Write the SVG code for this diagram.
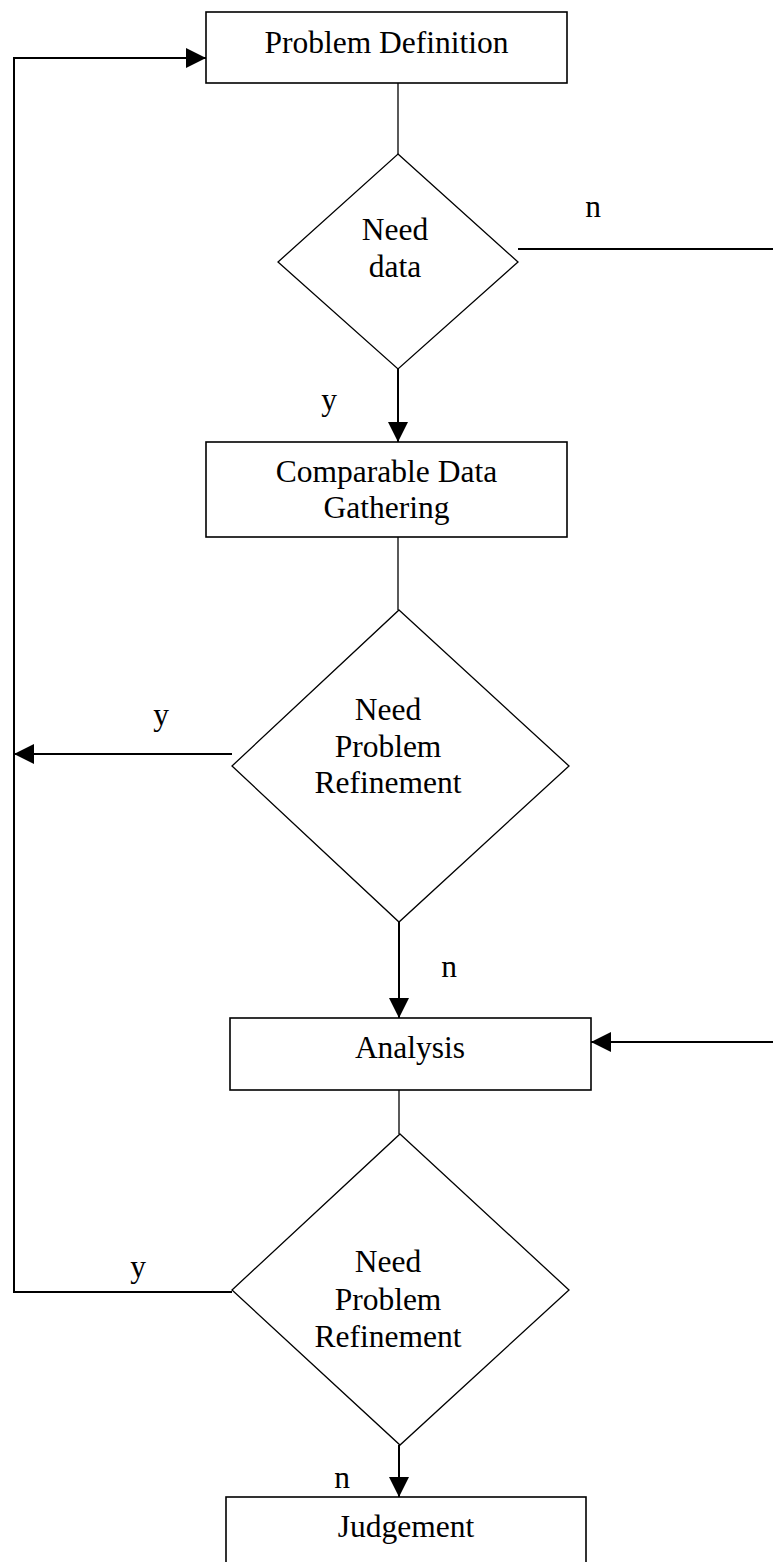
<svg xmlns="http://www.w3.org/2000/svg" width="773" height="1562" viewBox="0 0 773 1562">
<style>
.box{fill:#fff;stroke:#000;stroke-width:1.6}
.dia{fill:#fff;stroke:#000;stroke-width:1.3}
.ln{fill:none;stroke:#000;stroke-width:1.3}
.ar{fill:none;stroke:#000;stroke-width:2}
text{font-family:"Liberation Serif","Times New Roman",serif;font-size:31.5px;fill:#000;text-anchor:middle}
</style>
<defs>
<marker id="ah" viewBox="0 0 20 20" refX="20" refY="10" markerWidth="20" markerHeight="20" markerUnits="userSpaceOnUse" orient="auto">
<path d="M0,0 L20,10 L0,20 z" fill="#000"/>
</marker>
</defs>
<rect width="773" height="1562" fill="#fff"/>
<g id="connectors">
<line class="ln" x1="398" y1="83" x2="398" y2="154"/>
<line class="ar" x1="398" y1="369" x2="398" y2="442" marker-end="url(#ah)"/>
<line class="ar" x1="518" y1="249" x2="773" y2="249"/>
<line class="ln" x1="398" y1="537" x2="398" y2="610"/>
<line class="ar" x1="232" y1="754" x2="14" y2="754" marker-end="url(#ah)"/>
<line class="ar" x1="399" y1="922" x2="399" y2="1018" marker-end="url(#ah)"/>
<line class="ar" x1="773" y1="1042" x2="591" y2="1042" marker-end="url(#ah)"/>
<line class="ln" x1="399" y1="1090" x2="399" y2="1134"/>
<line class="ar" x1="399" y1="1445" x2="399" y2="1497" marker-end="url(#ah)"/>
<polyline class="ar" points="232,1292 14,1292 14,58 206,58" marker-end="url(#ah)"/>
<text x="593" y="217">n</text>
<text x="329" y="410">y</text>
<text x="161" y="725">y</text>
<text x="449" y="977">n</text>
<text x="138" y="1277">y</text>
<text x="342" y="1488">n</text>
</g>
<g id="problem-definition">
<rect class="box" x="206" y="12" width="361" height="71"/>
<text x="386.5" y="53">Problem Definition</text>
</g>
<g id="need-data">
<polygon class="dia" points="398,154 518,262 398,369 278,262"/>
<text x="395" y="240">Need</text>
<text x="395" y="277">data</text>
</g>
<g id="comparable-data-gathering">
<rect class="box" x="206" y="442" width="361" height="95"/>
<text x="386.5" y="482">Comparable Data</text>
<text x="386.5" y="518">Gathering</text>
</g>
<g id="need-refinement-1">
<polygon class="dia" points="399,610 569,766 399,922 232,766"/>
<text x="388" y="720">Need</text>
<text x="388" y="757">Problem</text>
<text x="388" y="793">Refinement</text>
</g>
<g id="analysis">
<rect class="box" x="230" y="1018" width="361" height="72"/>
<text x="410" y="1058">Analysis</text>
</g>
<g id="need-refinement-2">
<polygon class="dia" points="400,1134 569,1290 400,1445 232,1290"/>
<text x="388" y="1272">Need</text>
<text x="388" y="1310">Problem</text>
<text x="388" y="1347">Refinement</text>
</g>
<g id="judgement">
<rect class="box" x="226" y="1497" width="360" height="80"/>
<text x="406" y="1537">Judgement</text>
</g>
</svg>
